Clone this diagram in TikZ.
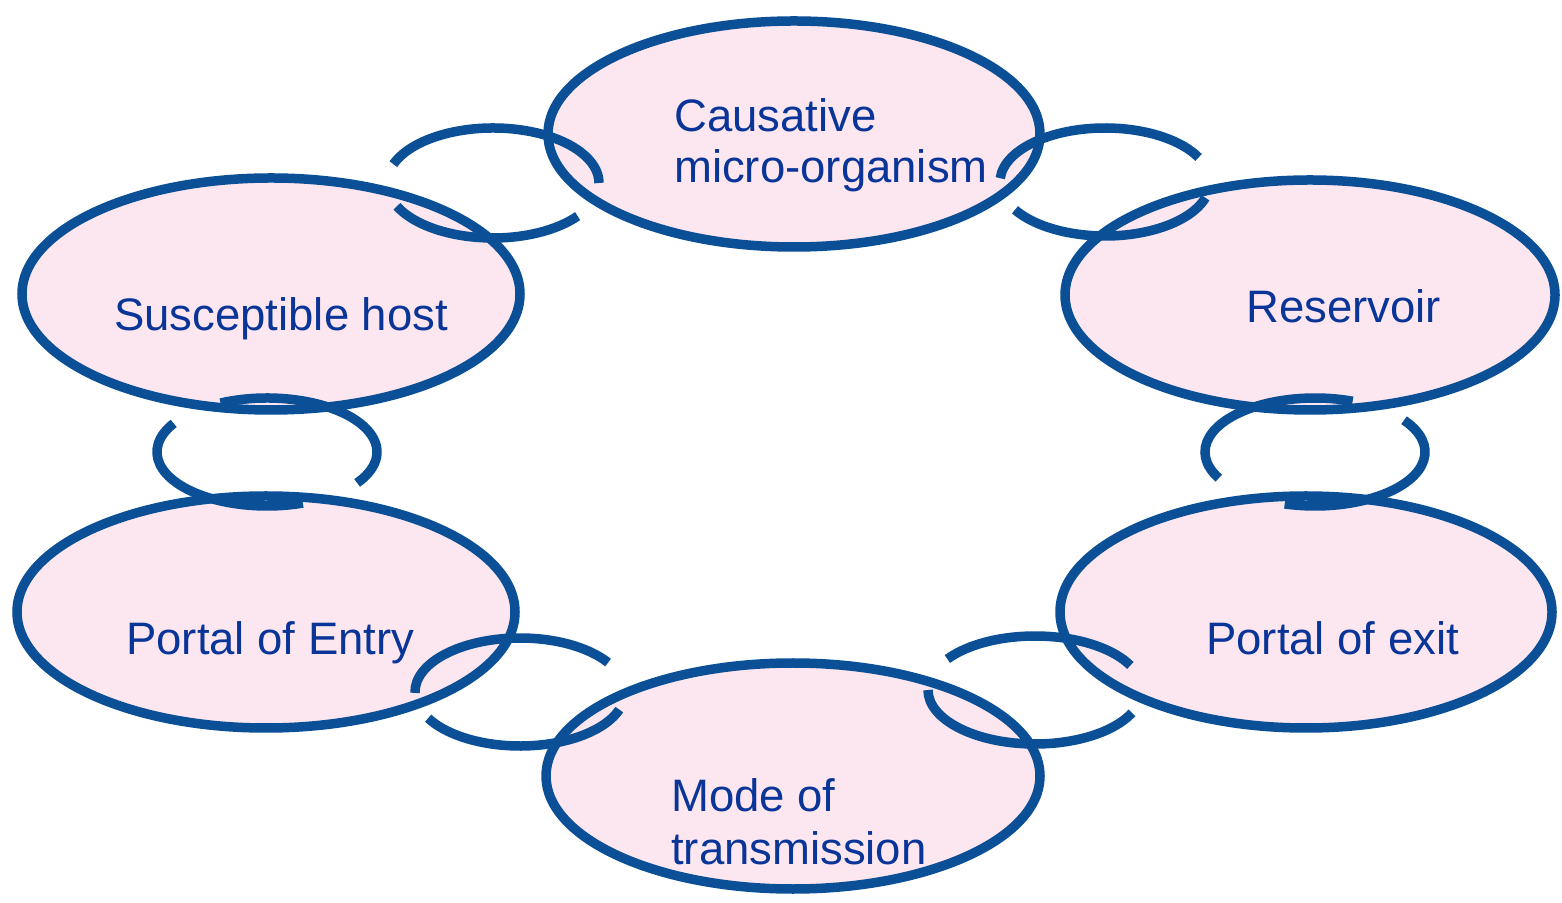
\documentclass[tikz,border=0pt]{standalone}
\usepackage{fontspec}
\setmainfont{Liberation Sans}
\usetikzlibrary{shapes.geometric}

\definecolor{ringblue}{RGB}{11,79,150}
\definecolor{ringfill}{RGB}{252,230,239}
\definecolor{labelblue}{RGB}{10,53,152}

% one arc of a chain link: centre name, x radius, y radius, start angle, end angle
\newcommand\chainarc[5]{%
  \draw[linkline] ([shift={(#4:#2 and #3)}]#1) arc[start angle=#4, end angle=#5, x radius=#2, y radius=#3];}

\begin{document}
\begin{tikzpicture}[x=1pt, y=1pt,
  stage/.style={ellipse, draw=ringblue, fill=ringfill, line width=9.5pt, inner sep=0pt, outer sep=0pt},
  linkline/.style={draw=ringblue, line width=9.5pt, line cap=butt},
  label/.style={anchor=base west, inner sep=0pt, text=labelblue, font=\fontsize{45.5}{54}\selectfont}]

\useasboundingbox (0,0) rectangle (1562,902);

% the six stages of the chain
\node[stage, minimum width=492, minimum height=226] (cause)     at (794,768) {};
\node[stage, minimum width=498, minimum height=232] (host)      at (271,608) {};
\node[stage, minimum width=490, minimum height=230] (reservoir) at (1310,607) {};
\node[stage, minimum width=498, minimum height=232] (entry)     at (266,290) {};
\node[stage, minimum width=492, minimum height=232] (exit)      at (1306,290) {};
\node[stage, minimum width=494, minimum height=226] (mode)      at (793,126) {};

% centres of the links joining neighbouring stages
\coordinate (l1) at (493,719);
\coordinate (l2) at (1105,720);
\coordinate (l3) at (267,450);
\coordinate (l4) at (1315,450);
\coordinate (l5) at (520,210);
\coordinate (l6) at (1035,212);

% each link is an open ring of two arcs
\chainarc{l1}{106}{55}{160}{0}
\chainarc{l1}{106}{55}{205}{323}
\chainarc{l2}{105}{54}{176}{27}
\chainarc{l2}{105}{54}{211}{343}
\chainarc{l3}{110}{54}{115}{-35}
\chainarc{l3}{110}{54}{148}{289}
\chainarc{l4}{110}{54}{209}{70}
\chainarc{l4}{110}{54}{36}{-106}
\chainarc{l5}{105}{54}{181}{33}
\chainarc{l5}{105}{54}{209}{341}
\chainarc{l6}{107}{54}{145}{27}
\chainarc{l6}{107}{54}{180}{335}

% stage names
\node[label] (causeA) at (674,770) {Causative};
\node[label] (causeB) at (674,719) {micro-organism};
\node[label] (hostT)  at (114,571) {Susceptible host};
\node[label] (resT)   at (1246,579) {Reservoir};
\node[label] (entryT) at (126,247) {Portal of Entry};
\node[label] (exitT)  at (1206,247) {Portal of exit};
\node[label] (modeA)  at (671,91) {Mode of};
\node[label] (modeB)  at (671,38) {transmission};
\end{tikzpicture}
\end{document}
